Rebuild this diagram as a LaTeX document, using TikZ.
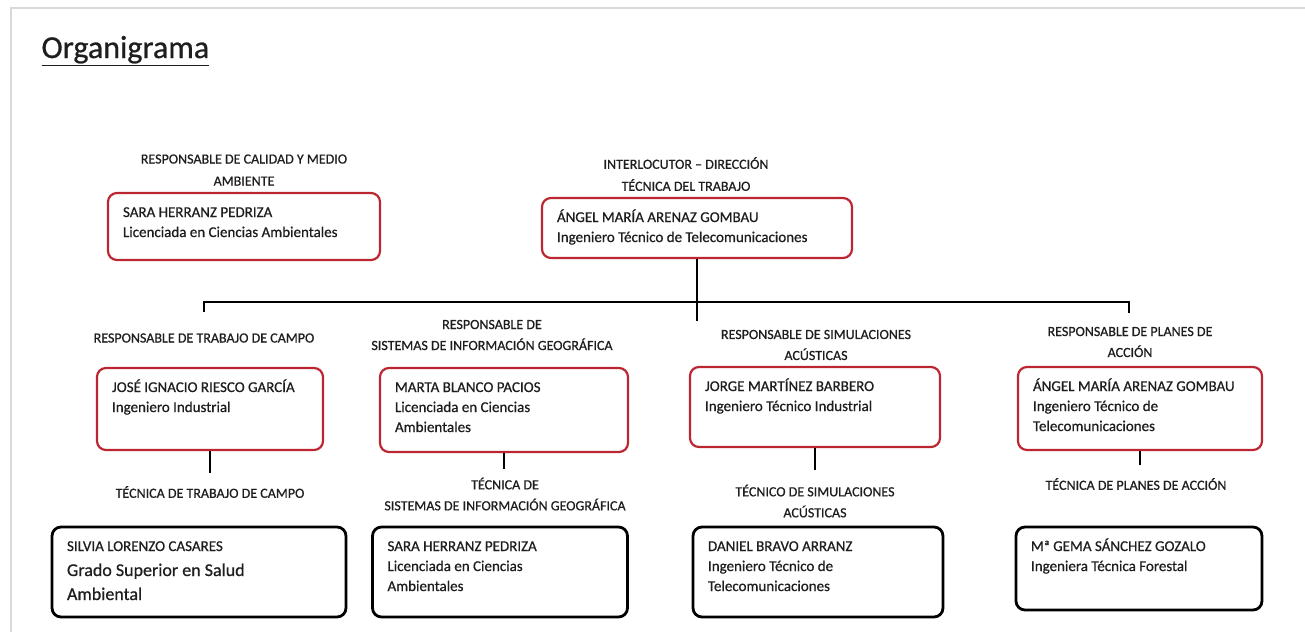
\documentclass[tikz,border=0pt]{standalone}
\usepackage{fontspec}
\setmainfont[FakeBold=0.7]{Carlito}
\usepackage{xcolor}
\definecolor{rojo}{RGB}{188,38,50}
\definecolor{tinta}{RGB}{30,30,30}
\newcommand{\datos}[3]{\parbox[c][#2][t]{#1}{\raggedright\rule{0pt}{16pt}#3}}

\begin{document}
\begin{tikzpicture}[x=1pt,y=-1pt,
		cargo/.style={align=center,text=tinta,inner sep=0pt,font=\fontsize{14}{21}\selectfont},
		jefe/.style={draw=rojo,line width=2.2pt,rounded corners=9pt,inner xsep=15pt,inner ysep=8pt,text=tinta,font=\fontsize{15}{20}\selectfont},
		tecnico/.style={jefe,draw=black,line width=2.8pt},
		linea/.style={line width=2pt}]
	\useasboundingbox (0,0) rectangle (1305,632);
	%% page edge
	\draw[black!15,line width=2.5pt] (11,632) -- (11,8) -- (1305,8);
	%% title
	\node (titulo) at (38,58) [anchor=base west,text=tinta,font=\fontsize{32}{36}\selectfont] {\underline{Organigrama}};
	%% top level
	\node (tcalidad) at (244,170) [cargo] {RESPONSABLE DE CALIDAD Y MEDIO\\[1pt]AMBIENTE};
	\node (calidad) at (244,226.5) [jefe] {\datos{242pt}{51pt}{SARA HERRANZ PEDRIZA\\Licenciada en Ciencias Ambientales}};
	\node (tdir) at (686,174) [cargo] {INTERLOCUTOR -- DIRECCIÓN\\[1pt]TÉCNICA DEL TRABAJO};
	\node (dir) at (697,228) [jefe] {\datos{280pt}{44pt}{ÁNGEL MARÍA ARENAZ GOMBAU\\Ingeniero Técnico de Telecomunicaciones}};
	%% bus
	\coordinate (busI) at (204,302);
	\coordinate (busD) at (1129,302);
	\draw[linea] (dir.south) -- ++(0,62);
	\draw[linea] ([yshift=-10pt]busI) -- (busI) -- (busD) -- ([yshift=-11pt]busD);
	%% responsables
	\node (tcampo) at (204,338) [cargo] {RESPONSABLE DE TRABAJO DE CAMPO};
	\node (campo) at (210,409) [jefe] {\datos{196pt}{66pt}{JOSÉ IGNACIO RIESCO GARCÍA\\Ingeniero Industrial}};
	\node (tsig) at (492,335) [cargo] {RESPONSABLE DE\\SISTEMAS DE INFORMACIÓN GEOGRÁFICA};
	\node (sig) at (504,410) [jefe] {\datos{218pt}{68pt}{MARTA BLANCO PACIOS\\Licenciada en Ciencias\\Ambientales}};
	\node (tsim) at (816,345) [cargo] {RESPONSABLE DE SIMULACIONES\\ACÚSTICAS};
	\node (sim) at (815,407) [jefe] {\datos{220pt}{64pt}{JORGE MARTÍNEZ BARBERO\\Ingeniero Técnico Industrial}};
	\node (tplan) at (1130,342) [cargo] {RESPONSABLE DE PLANES DE\\ACCIÓN};
	\node (plan) at (1140,408.5) [jefe] {\datos{214pt}{67pt}{ÁNGEL MARÍA ARENAZ GOMBAU\\Ingeniero Técnico de\\Telecomunicaciones}};
	%% tecnicos
	\node (ttcampo) at (210,492) [cargo] {TÉCNICA DE TRABAJO DE CAMPO};
	\node (tcampo2) at (199,572) [tecnico] {\datos{264pt}{74pt}{SILVIA LORENZO CASARES\\[2pt]{\fontsize{18}{23}\selectfont Grado Superior en Salud\\[4pt]Ambiental}}};
	\node (ttsig) at (505,494) [cargo] {TÉCNICA DE\\SISTEMAS DE INFORMACIÓN GEOGRÁFICA};
	\node (tsig2) at (500,572) [tecnico] {\datos{225pt}{74pt}{SARA HERRANZ PEDRIZA\\Licenciada en Ciencias\\Ambientales}};
	\node (ttsim) at (815,501) [cargo] {TÉCNICO DE SIMULACIONES\\ACÚSTICAS};
	\node (tsim2) at (818,572) [tecnico] {\datos{220pt}{74pt}{DANIEL BRAVO ARRANZ\\Ingeniero Técnico de\\Telecomunicaciones}};
	\node (ttplan) at (1136,484) [cargo] {TÉCNICA DE PLANES DE ACCIÓN};
	\node (tplan2) at (1139,568.5) [tecnico] {\datos{216pt}{67pt}{Mª GEMA SÁNCHEZ GOZALO\\Ingeniera Técnica Forestal}};
	%% links down
	\draw[linea,shorten >=13pt] (campo.south) -- (campo.south |- ttcampo.north);
	\draw[linea,shorten >=8pt] (sig.south) -- (sig.south |- ttsig.north);
	\draw[linea,shorten >=14pt] (sim.south) -- (sim.south |- ttsim.north);
	\draw[linea,shorten >=13pt] (plan.south) -- (plan.south |- ttplan.north);
\end{tikzpicture}
\end{document}
